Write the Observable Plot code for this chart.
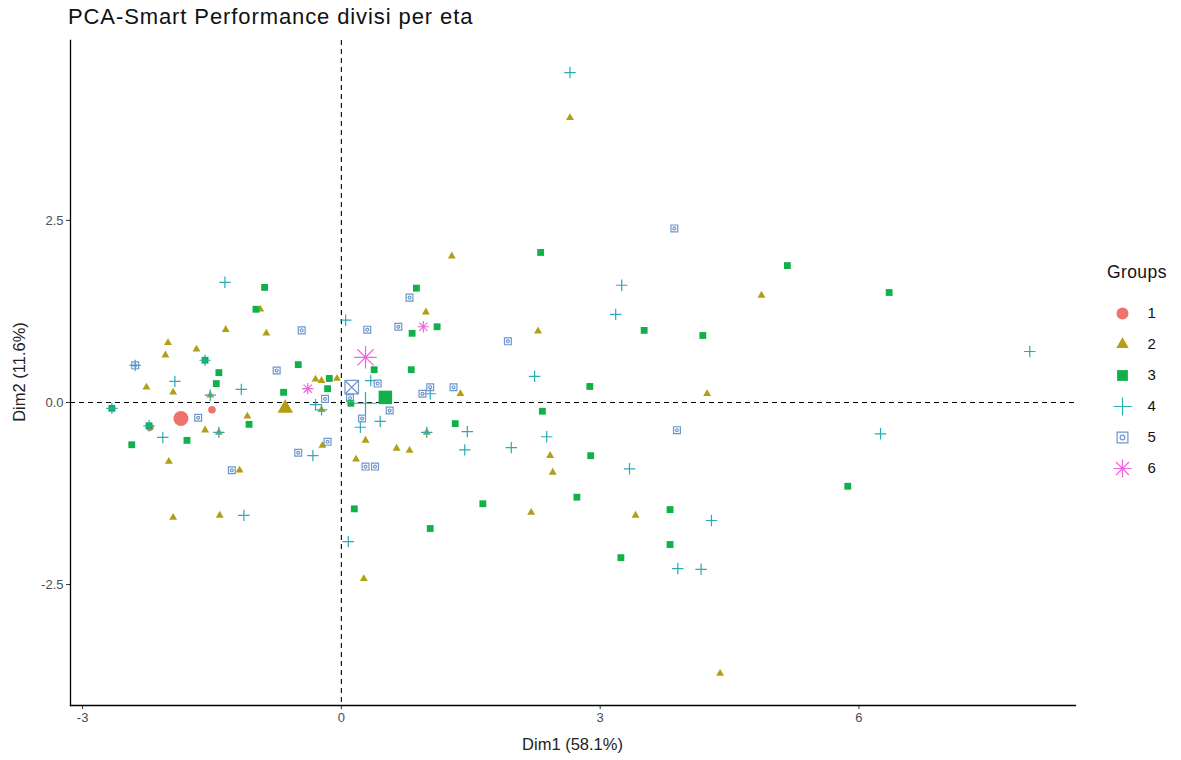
<!DOCTYPE html>
<html><head><meta charset="utf-8">
<script src="https://cdn.jsdelivr.net/npm/d3@7"></script>
<script src="https://cdn.jsdelivr.net/npm/@observablehq/plot@0.6"></script>
<style>
body{margin:0;background:#fff;font-family:"Liberation Sans",Arial,sans-serif;}
#wrap{position:relative;width:1181px;height:760px;overflow:hidden;}
#title{position:absolute;left:68px;top:4px;font-size:22px;letter-spacing:0.9px;color:#111;white-space:nowrap;}
#chart{position:absolute;left:0;top:30px;}
#xlab{position:absolute;left:70px;width:1005px;top:735px;text-align:center;font-size:16.5px;color:#222;}
#ylab{position:absolute;left:19px;top:372px;font-size:16.5px;color:#222;transform:translate(-50%,-50%) rotate(-90deg);white-space:nowrap;}
#legtitle{position:absolute;left:1107px;top:262px;font-size:17.5px;letter-spacing:0.4px;color:#111;}
#legend{position:absolute;left:1100px;top:295px;}
</style></head><body>
<div id="wrap">
<div id="title">PCA-Smart Performance divisi per eta</div>
<div id="chart"></div>
<div id="xlab">Dim1 (58.1%)</div>
<div id="ylab">Dim2 (11.6%)</div>
<div id="legtitle">Groups</div>
<div id="legend"></div>
</div>
<script>
// ---- data (Dim1, Dim2) ----
const groups = ["1","2","3","4","5","6"];
const colors = ["#F0736B","#B39E14","#12B04A","#2AAAB4","#6E96CC","#EE66DE"];
const xTicks = [-3, 0, 3, 6];
const yTicks = [-2.5, 0, 2.5];

const g1 = [[-1.50,-0.10],[-2.22,-0.34]];
const g2 = [[2.65,3.91],[1.28,2.01],[4.87,1.47],[2.28,0.98],[4.24,0.12],[-2.01,0.82],[-2.04,0.65],
  [-2.26,0.21],[-1.68,0.73],[-1.95,0.14],[-2.00,-0.81],[-1.95,-1.58],[-1.34,1.00],[-0.87,0.95],
  [-0.94,1.28],[-0.30,0.32],[-0.23,0.30],[-0.05,0.33],[-1.52,0.10],[-1.09,-0.19],[-1.58,-0.38],
  [-1.42,-0.41],[-0.23,-0.10],[-0.22,-0.59],[-1.18,-0.93],[-1.41,-1.55],[0.98,1.24],[1.38,0.12],
  [0.28,-0.52],[0.64,-0.63],[0.79,-0.66],[0.17,-0.78],[2.42,-0.73],[2.45,-0.96],[2.20,-1.51],
  [3.41,-1.55],[0.26,-2.42],[4.39,-3.72],[0.99,-0.41]];
const g3 = [[2.31,2.06],[5.17,1.88],[6.35,1.51],[0.87,1.57],[1.11,1.04],[0.82,0.95],[0.81,0.45],
  [0.38,0.45],[3.51,0.99],[4.19,0.92],[2.88,0.22],[2.33,-0.12],[2.89,-0.73],[2.73,-1.30],
  [1.64,-1.39],[1.03,-1.73],[1.32,-0.29],[3.24,-2.13],[3.81,-1.47],[3.81,-1.95],[5.87,-1.15],
  [-0.89,1.58],[-0.99,1.28],[-1.42,0.41],[-1.45,0.26],[-0.50,0.52],[-0.67,0.14],[-0.16,0.19],
  [-1.07,-0.30],[-1.79,-0.52],[-1.58,0.58],[-0.14,0.33],[0.11,-0.01],[0.15,-1.46],[-2.43,-0.58],
  [-2.66,-0.08],[-2.23,-0.32]];
const g4 = [[2.65,4.53],[3.25,1.61],[3.18,1.21],[7.98,0.70],[2.24,0.36],[2.38,-0.47],[1.97,-0.62],
  [3.34,-0.91],[4.29,-1.62],[3.90,-2.28],[4.17,-2.29],[6.25,-0.43],[-1.35,1.65],[0.05,1.13],
  [-1.16,0.18],[-2.07,-0.48],[-1.93,0.29],[-1.13,-1.55],[-0.33,-0.73],[-0.30,-0.03],[0.08,-1.91],
  [0.34,0.30],[0.45,-0.26],[0.22,-0.34],[1.46,-0.40],[1.43,-0.65],[0.99,-0.41],[1.03,0.12],
  [-1.58,0.58],[-2.66,-0.08],[-2.23,-0.32],[-1.42,-0.41],[-1.52,0.10],[-0.23,-0.10],[-2.39,0.51]];
const g5 = [[3.86,2.39],[0.79,1.44],[0.30,1.00],[0.66,1.04],[-0.46,0.99],[-0.75,0.44],[-0.19,0.05],
  [0.42,0.26],[0.56,-0.11],[0.24,-0.22],[0.28,-0.88],[0.39,-0.88],[1.03,0.21],[0.94,0.12],
  [1.30,0.21],[1.93,0.84],[3.89,-0.38],[-0.50,-0.69],[-0.16,-0.54],[-1.27,-0.93],[-1.66,-0.21],
  [-2.39,0.51],[0.10,0.06]];
const g6 = [[0.95,1.04],[-0.39,0.19]];
const centroids = [[-1.86,-0.22],[-0.65,-0.08],[0.51,0.07],[0.28,-0.01],[0.12,0.21],[0.28,0.62]];

// ---- symbols (ggplot shapes 19,17,15,3,7,8) ----
const rad = s => Math.sqrt(s / Math.PI);
const symCircle = {draw(c, s){const r = rad(s); c.moveTo(r, 0); c.arc(0, 0, r, 0, 2*Math.PI);}};
const symTriangle = {draw(c, s){const r = rad(s)*1.2; c.moveTo(0, -r); c.lineTo(r*0.866, r*0.5); c.lineTo(-r*0.866, r*0.5); c.closePath();}};
const symSquare = {draw(c, s){const h = rad(s)*0.9; c.rect(-h, -h, 2*h, 2*h);}};
const symPlus = {draw(c, s){const a = rad(s)*1.5; c.moveTo(-a,0); c.lineTo(a,0); c.moveTo(0,-a); c.lineTo(0,a);}};
const symBoxC = {draw(c, s){const r = rad(s), h = r*0.9, q = r*0.38; c.rect(-h,-h,2*h,2*h); c.moveTo(q,0); c.arc(0,0,q,0,2*Math.PI);}};
const symBoxX = {draw(c, s){const h = rad(s)*0.9; c.rect(-h,-h,2*h,2*h); c.moveTo(-h,-h); c.lineTo(h,h); c.moveTo(h,-h); c.lineTo(-h,h);}};
const symStar = {draw(c, s){const a = rad(s)*1.5, d = a*0.72; c.moveTo(-a,0); c.lineTo(a,0); c.moveTo(0,-a); c.lineTo(0,a);
  c.moveTo(-d,-d); c.lineTo(d,d); c.moveTo(d,-d); c.lineTo(-d,d);}};
const pointSyms = [symCircle, symTriangle, symSquare, symPlus, symBoxC, symStar];
const centSyms  = [symCircle, symTriangle, symSquare, symPlus, symBoxX, symStar];
const filled = [true, true, true, false, false, false];
const series = [g1, g2, g3, g4, g5, g6];

function dotOpts(i, r, syms){
  return filled[i]
    ? {x: d => d[0], y: d => d[1], symbol: syms[i], r, fill: colors[i], stroke: "none"}
    : {x: d => d[0], y: d => d[1], symbol: syms[i], r, fill: "none", stroke: colors[i], strokeWidth: 1.2};
}

const marks = [
  Plot.ruleX([0], {stroke: "#000", strokeWidth: 1.1, strokeDasharray: "5,4"}),
  Plot.ruleY([0], {stroke: "#000", strokeWidth: 1.1, strokeDasharray: "5,4"}),
];
series.forEach((s, i) => marks.push(Plot.dot(s, dotOpts(i, 3.8, pointSyms))));
centroids.forEach((c, i) => marks.push(Plot.dot([c], dotOpts(i, 7.5, centSyms))));
marks.push(
  Plot.axisX({ticks: xTicks, tickFormat: d => String(d), tickSize: 4, tickPadding: 3, fontSize: 13, label: null, stroke: "#333", fill: "#4d4d4d"}),
  Plot.axisY({ticks: yTicks, tickFormat: d => d.toFixed(1), tickSize: 4, tickPadding: 3, fontSize: 13, label: null, stroke: "#333", fill: "#4d4d4d"}),
  Plot.frame({anchor: "left", stroke: "#000", strokeWidth: 1.3}),
  Plot.frame({anchor: "bottom", stroke: "#000", strokeWidth: 1.3})
);

const chart = Plot.plot({
  width: 1181, height: 730,
  marginLeft: 70, marginRight: 106, marginTop: 10, marginBottom: 55,
  x: {domain: [-3.14, 8.51]},
  y: {domain: [-4.16, 4.97]},
  style: {fontFamily: "Liberation Sans, Arial, sans-serif", background: "white"},
  marks
});
document.getElementById("chart").append(chart);

// ---- legend ----
const legMarks = [];
groups.forEach((g, i) => {
  const o = dotOpts(i, 6, pointSyms);
  legMarks.push(Plot.dot([g], {...o, x: null, y: d => d, frameAnchor: "left", dx: 22}));
});
legMarks.push(Plot.text(groups, {y: d => d, text: d => d, frameAnchor: "left", dx: 47, textAnchor: "start", fontSize: 15, fill: "#111"}));
const legend = Plot.plot({
  width: 80, height: 190, margin: 0,
  y: {type: "point", domain: groups, range: [16, 174], padding: 0, axis: null},
  style: {fontFamily: "Liberation Sans, Arial, sans-serif", background: "white"},
  marks: legMarks
});
document.getElementById("legend").append(legend);
</script>
</body></html>
